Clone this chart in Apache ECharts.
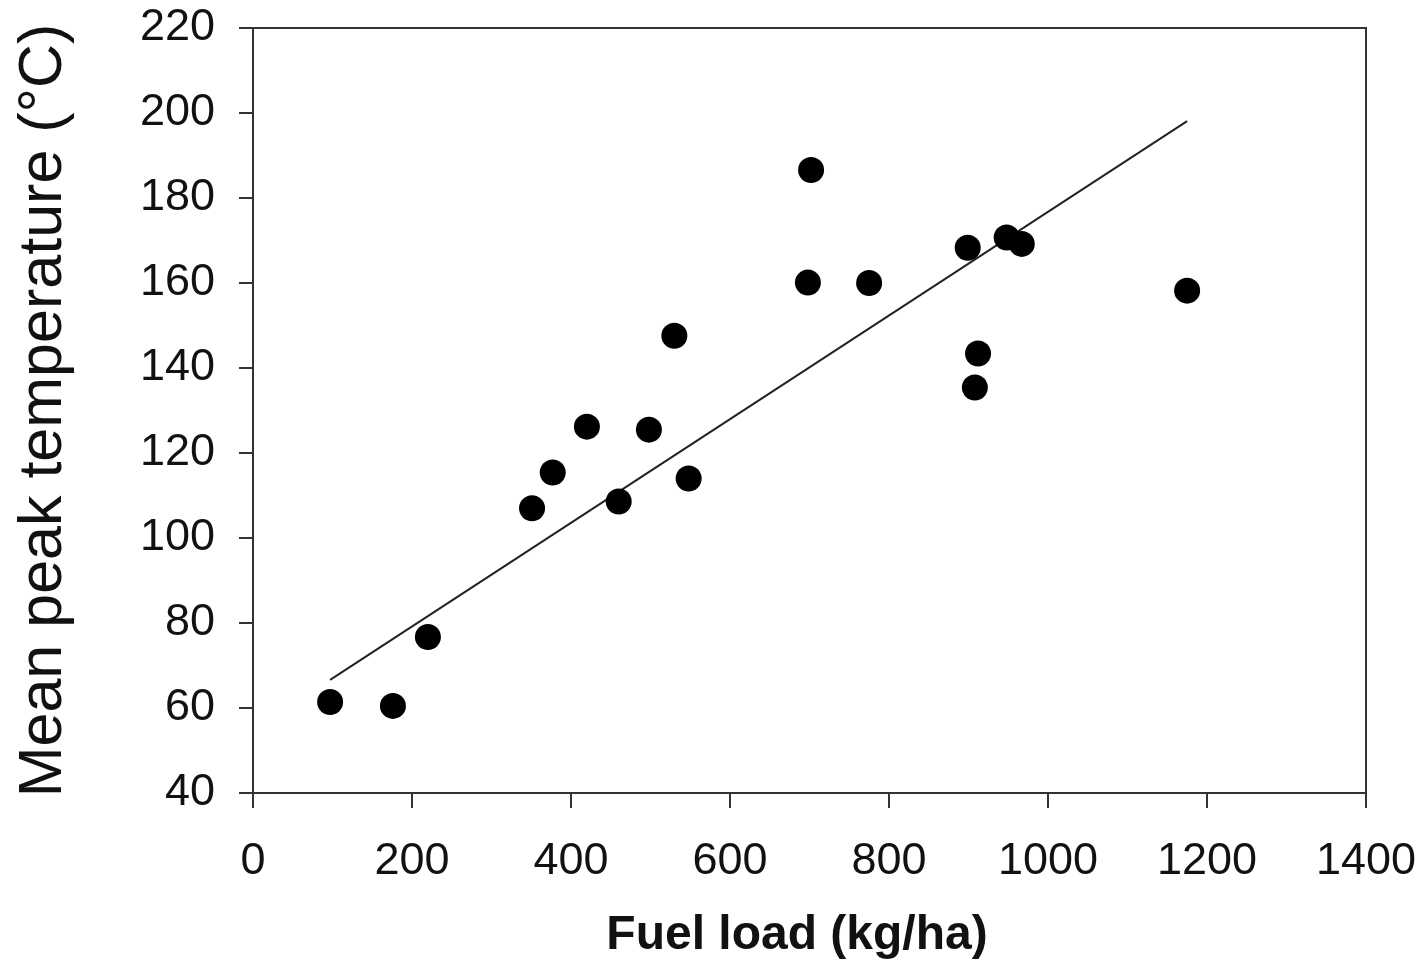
<!DOCTYPE html>
<html>
<head>
<meta charset="utf-8">
<script src="https://cdn.jsdelivr.net/npm/echarts@6/dist/echarts.min.js"></script>
<style>
  html, body { margin: 0; padding: 0; background: #fff; }
  #chart { width: 1421px; height: 962px; }
</style>
</head>
<body>
<div id="chart"></div>
<script>
// fuel load (kg/ha) and mean peak temperature (°C) per plot
const fuelLoad = [97, 176, 220, 351, 377, 420, 460, 498, 530, 548, 702, 698, 775, 899, 948, 967, 912, 908, 1175];
const peakTemp = [61.4, 60.5, 76.7, 107, 115.4, 126.2, 108.6, 125.5, 147.6, 114, 186.6, 160.1, 160, 168.3, 170.7, 169.2, 143.4, 135.4, 158.2];

// fitted line endpoints
const fitX = [97, 1175];
const fitY = [66.6, 198.1];

const chart = echarts.init(document.getElementById("chart"));

const axisColor = "#333";
const font = "Liberation Sans, Arial, sans-serif";

const options = {
  animation: false,
  grid: {
    left: 253, top: 28, right: 55, bottom: 169,
    outerBoundsMode: "none",
    show: true, borderColor: axisColor, borderWidth: 2
  },
  xAxis: {
    type: "value",
    min: 0, max: 1400, interval: 200,
    name: "Fuel load (kg/ha)",
    nameLocation: "middle",
    nameGap: 119,
    nameTextStyle: { fontFamily: font, fontSize: 48, fontWeight: "bold", color: "#111", padding: [0, 25, 0, 0] },
    axisLine: { lineStyle: { color: axisColor, width: 2 } },
    axisTick: { show: true, inside: false, length: 15, lineStyle: { color: axisColor, width: 2 } },
    axisLabel: { fontFamily: font, fontSize: 45, color: "#111", margin: 46, formatter: v => String(v) },
    splitLine: { show: false }
  },
  yAxis: {
    type: "value",
    min: 40, max: 220, interval: 20,
    name: "Mean peak temperature (°C)",
    nameLocation: "middle",
    nameGap: 178,
    nameTextStyle: { fontFamily: font, fontSize: 61, color: "#111" },
    axisLine: { show: true, lineStyle: { color: axisColor, width: 2 } },
    axisTick: { show: true, inside: false, length: 14, lineStyle: { color: axisColor, width: 2 } },
    axisLabel: { fontFamily: font, fontSize: 45, color: "#111", margin: 38, formatter: v => String(v) },
    splitLine: { show: false }
  },
  series: [
    {
      type: "line",
      data: fitX.map((x, i) => [x, fitY[i]]),
      symbol: "none",
      lineStyle: { color: "#222", width: 2 },
      z: 1
    },
    {
      type: "scatter",
      data: fuelLoad.map((x, i) => [x, peakTemp[i]]),
      symbol: "circle",
      symbolSize: 26,
      itemStyle: { color: "#000", opacity: 1 },
      z: 2
    }
  ]
};

chart.setOption(options);
</script>
</body>
</html>
